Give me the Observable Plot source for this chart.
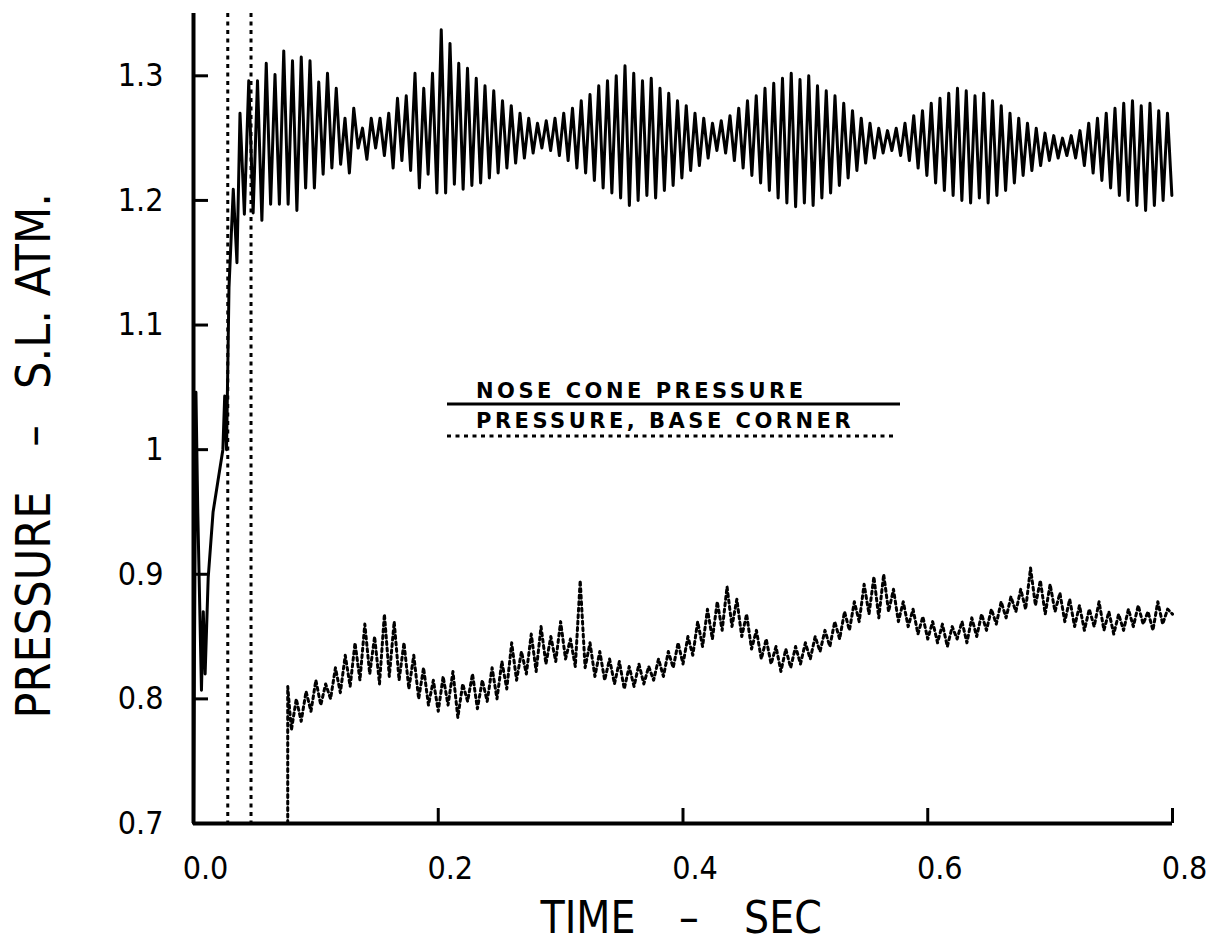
<!DOCTYPE html>
<html><head><meta charset="utf-8">
<script src="https://cdn.jsdelivr.net/npm/d3@7"></script>
<script src="https://cdn.jsdelivr.net/npm/@observablehq/plot@0.6"></script>
<style>
body{margin:0;background:#fff;}
#chart{position:relative;width:1214px;height:943px;}
svg{font-family:"DejaVu Sans Condensed","DejaVu Sans",sans-serif;font-stretch:condensed;}
</style></head><body><div id="chart"></div>
<script>
// ---- data ----
const xTicks = [0, 0.2, 0.4, 0.6, 0.8];
const yTicks = [0.7, 0.8, 0.9, 1.0, 1.1, 1.2, 1.3];
const xDomain = [0, 0.8];
const yDomain = [0.7, 1.35];
const markerTimes = [0.028, 0.047];

// nose cone pressure: start-up transient
const noseStartT = [0.000, 0.002, 0.0035, 0.0065, 0.008, 0.0095, 0.012, 0.016, 0.020, 0.024, 0.0255, 0.027, 0.029, 0.0325, 0.0355];
const noseStartP = [0.700, 1.046, 0.950, 0.807, 0.870, 0.820, 0.897, 0.950, 0.975, 1.000, 1.043, 1.000, 1.130, 1.209, 1.150];
// nose cone pressure: oscillation, one peak and one trough per cycle
const noseCycleStart = 0.038;
const noseCycle = 0.00715;
const noseHighs = [
  1.270, 1.296, 1.296, 1.310, 1.301, 1.320, 1.312, 1.315, 1.312, 1.295,
  1.302, 1.290, 1.266, 1.274, 1.258, 1.266, 1.266, 1.270, 1.282, 1.284,
  1.302, 1.290, 1.302, 1.337, 1.326, 1.310, 1.306, 1.298, 1.292, 1.288,
  1.280, 1.276, 1.270, 1.266, 1.262, 1.264, 1.266, 1.270, 1.274, 1.280,
  1.285, 1.292, 1.296, 1.300, 1.308, 1.302, 1.296, 1.298, 1.290, 1.286,
  1.280, 1.276, 1.270, 1.266, 1.262, 1.264, 1.268, 1.274, 1.280, 1.284,
  1.290, 1.294, 1.298, 1.302, 1.297, 1.300, 1.292, 1.288, 1.284, 1.278,
  1.272, 1.266, 1.262, 1.258, 1.256, 1.258, 1.262, 1.268, 1.272, 1.278,
  1.282, 1.286, 1.290, 1.288, 1.284, 1.286, 1.280, 1.276, 1.270, 1.266,
  1.262, 1.258, 1.254, 1.252, 1.250, 1.252, 1.256, 1.262, 1.266, 1.270,
  1.274, 1.278, 1.280, 1.276, 1.278, 1.272, 1.270
];
const noseLows = [
  1.189, 1.190, 1.184, 1.197, 1.197, 1.197, 1.192, 1.210, 1.210, 1.221,
  1.226, 1.229, 1.222, 1.242, 1.233, 1.242, 1.236, 1.226, 1.232, 1.224,
  1.210, 1.221, 1.206, 1.206, 1.213, 1.209, 1.212, 1.214, 1.218, 1.222,
  1.226, 1.230, 1.234, 1.238, 1.242, 1.240, 1.236, 1.232, 1.226, 1.222,
  1.216, 1.210, 1.206, 1.202, 1.196, 1.200, 1.204, 1.202, 1.208, 1.212,
  1.218, 1.224, 1.228, 1.234, 1.240, 1.238, 1.232, 1.226, 1.220, 1.214,
  1.208, 1.202, 1.198, 1.195, 1.198, 1.196, 1.202, 1.206, 1.212, 1.218,
  1.224, 1.230, 1.234, 1.238, 1.240, 1.236, 1.232, 1.226, 1.220, 1.214,
  1.208, 1.204, 1.200, 1.198, 1.202, 1.198, 1.204, 1.208, 1.214, 1.220,
  1.224, 1.228, 1.232, 1.234, 1.236, 1.234, 1.228, 1.222, 1.216, 1.210,
  1.204, 1.200, 1.196, 1.192, 1.196, 1.200, 1.204
];

// pressure, base corner (sampled record)
const baseStartT = 0.077;
const baseStartP = [0.700, 0.810];
const baseT0 = 0.080;
const baseStep = 0.004;
const baseP = [
  0.775, 0.800, 0.782, 0.806, 0.790, 0.815, 0.795, 0.812, 0.800, 0.825,
  0.805, 0.835, 0.810, 0.845, 0.815, 0.860, 0.820, 0.850, 0.812, 0.868,
  0.818, 0.862, 0.815, 0.845, 0.808, 0.835, 0.800, 0.825, 0.795, 0.815,
  0.790, 0.818, 0.795, 0.822, 0.785, 0.812, 0.798, 0.820, 0.792, 0.815,
  0.798, 0.825, 0.800, 0.830, 0.808, 0.845, 0.815, 0.838, 0.820, 0.852,
  0.822, 0.858, 0.828, 0.850, 0.830, 0.862, 0.832, 0.848, 0.826, 0.895,
  0.825, 0.845, 0.818, 0.838, 0.815, 0.832, 0.812, 0.830, 0.808, 0.826,
  0.810, 0.828, 0.812, 0.826, 0.815, 0.832, 0.818, 0.838, 0.825, 0.845,
  0.828, 0.850, 0.835, 0.862, 0.842, 0.872, 0.848, 0.878, 0.855, 0.890,
  0.858, 0.880, 0.850, 0.868, 0.840, 0.855, 0.832, 0.848, 0.828, 0.842,
  0.822, 0.840, 0.825, 0.842, 0.828, 0.845, 0.832, 0.850, 0.838, 0.855,
  0.842, 0.862, 0.848, 0.870, 0.855, 0.878, 0.862, 0.892, 0.868, 0.898,
  0.865, 0.900, 0.870, 0.888, 0.862, 0.878, 0.858, 0.872, 0.852, 0.866,
  0.848, 0.862, 0.845, 0.860, 0.842, 0.858, 0.848, 0.862, 0.845, 0.865,
  0.850, 0.868, 0.855, 0.872, 0.860, 0.878, 0.865, 0.882, 0.870, 0.888,
  0.872, 0.905, 0.875, 0.895, 0.868, 0.892, 0.870, 0.885, 0.862, 0.880,
  0.858, 0.875, 0.855, 0.872, 0.858, 0.878, 0.855, 0.870, 0.852, 0.868,
  0.855, 0.872, 0.858, 0.875, 0.860, 0.870, 0.855, 0.878, 0.860, 0.872,
  0.868
];

const legendLabels = ["NOSE CONE PRESSURE", "PRESSURE, BASE CORNER"];
const xTitle = ["TIME", "–", "SEC"];
const yTitle = ["PRESSURE", "–", "S.L. ATM."];

// ---- build tables ----
const nose = noseStartT.map((t, i) => ({t, p: noseStartP[i]}));
noseHighs.forEach((h, k) => {
  const t = noseCycleStart + k * noseCycle;
  nose.push({t, p: h});
  nose.push({t: t + noseCycle / 2, p: noseLows[k]});
});
const base = baseStartP.map(p => ({t: baseStartT, p}));
baseP.forEach((p, i) => base.push({t: baseT0 + i * baseStep, p}));

// ---- plot ----
const W = 1214, H = 943;
const mL = 193, mR = 42, mT = 13, mB = 120;
const font = {fontSize: 32};
const plot = Plot.plot({
  width: W, height: H,
  marginLeft: mL, marginRight: mR, marginTop: mT, marginBottom: mB,
  style: {background: "#fff", color: "#000", overflow: "visible"},
  x: {domain: xDomain},
  y: {domain: yDomain},
  marks: [
    Plot.ruleX(markerTimes, {stroke: "#000", strokeWidth: 3, strokeDasharray: "4,4.5"}),
    Plot.line(base, {x: "t", y: "p", stroke: "#000", strokeWidth: 3, strokeDasharray: "3,3.5", curve: "linear"}),
    Plot.line(nose, {x: "t", y: "p", stroke: "#000", strokeWidth: 3, curve: "linear"}),
    Plot.ruleX([xDomain[0]], {stroke: "#000", strokeWidth: 4}),
    Plot.ruleY([yDomain[0]], {stroke: "#000", strokeWidth: 4}),
    Plot.axisY(yTicks, {tickSize: 15, dx: 15, fill: "none", stroke: "#000", strokeWidth: 3, label: null}),
    Plot.axisX(xTicks, {tickSize: 15, dy: -15, fill: "none", stroke: "#000", strokeWidth: 3, label: null}),
    Plot.axisY(yTicks, {tickSize: 0, tickPadding: 30, ...font, fill: "#000", tickFormat: d => String(d), label: null}),
    Plot.axisX(xTicks, {tickSize: 0, tickPadding: 33, dx: 12, ...font, fill: "#000", tickFormat: d3.format(".1f"), label: null})
  ]
});
document.getElementById("chart").appendChild(plot);

// ---- axis titles and legend ----
const svg = d3.select(plot);
const g = svg.append("g").attr("fill", "#000");
const xs = [588, 689, 783];
xTitle.forEach((s, i) => g.append("text").attr("x", xs[i]).attr("y", 933)
  .attr("text-anchor", "middle").attr("font-size", 44).text(s));
const ys = [605, 436, 291];
yTitle.forEach((s, i) => g.append("text")
  .attr("transform", `translate(50,${ys[i]}) rotate(-90)`)
  .attr("text-anchor", "middle").attr("font-size", 48).text(s));

const lg = svg.append("g").attr("font-family", "'DejaVu Sans',sans-serif").style("font-stretch", "normal").attr("text-anchor", "start").attr("fill", "#000").attr("font-weight", "bold");
lg.append("text").attr("x", 476).attr("y", 398).attr("font-size", 21).attr("letter-spacing", 3.5).text(legendLabels[0]);
lg.append("line").attr("x1", 447).attr("x2", 900).attr("y1", 404).attr("y2", 404).attr("stroke", "#000").attr("stroke-width", 3);
lg.append("text").attr("x", 476).attr("y", 428).attr("font-size", 21).attr("letter-spacing", 3.5).text(legendLabels[1]);
lg.append("line").attr("x1", 447).attr("x2", 896).attr("y1", 436).attr("y2", 436).attr("stroke", "#000").attr("stroke-width", 3).attr("stroke-dasharray", "4,4.5");
</script></body></html>
